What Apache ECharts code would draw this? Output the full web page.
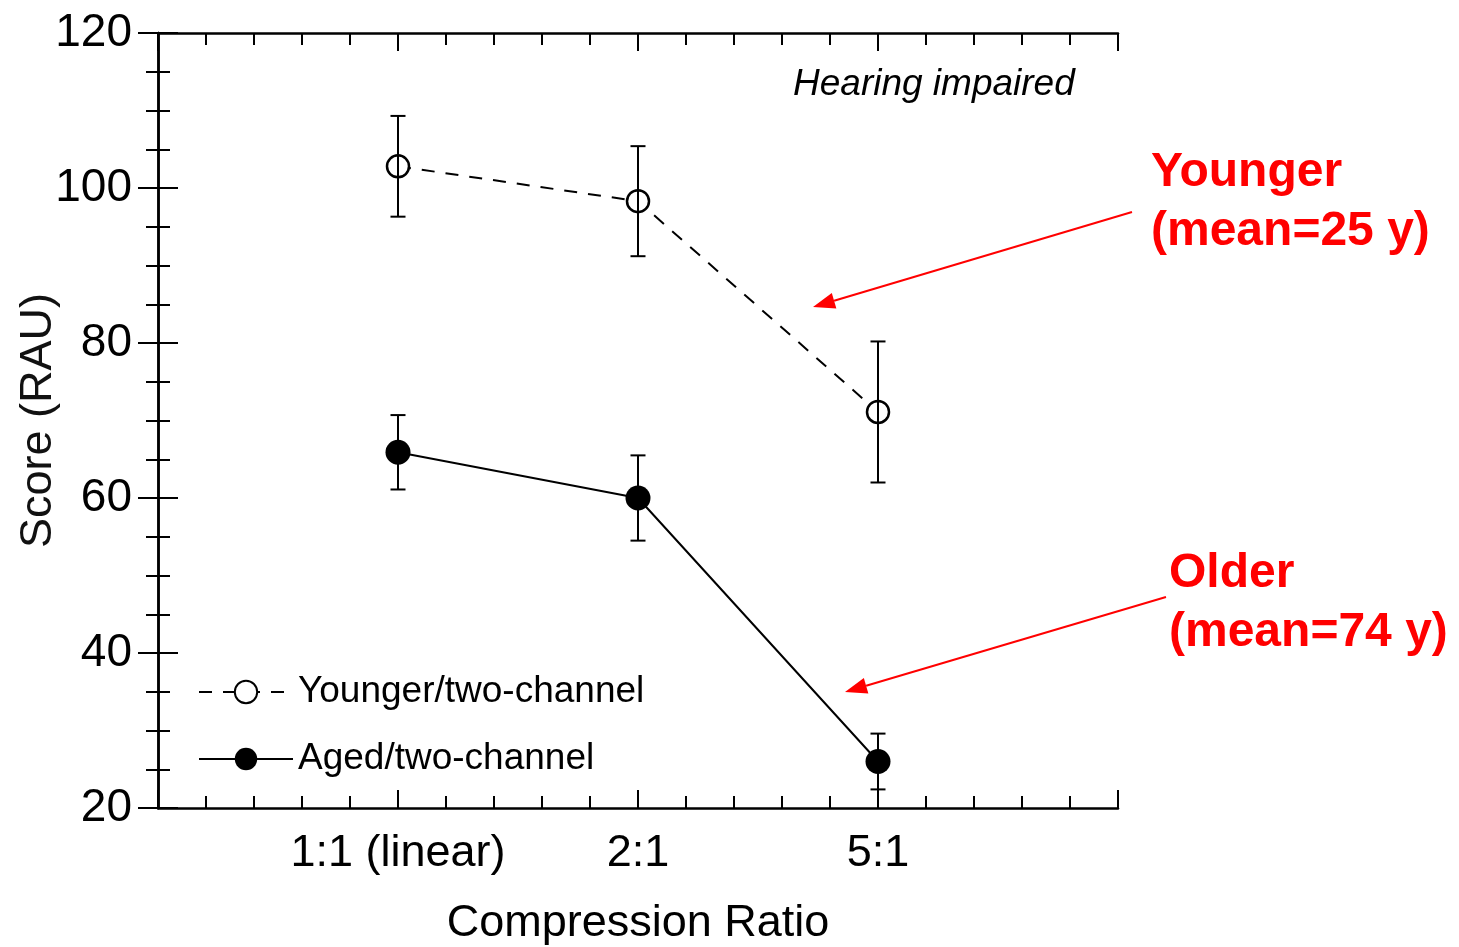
<!DOCTYPE html>
<html>
<head>
<meta charset="utf-8">
<script src="https://cdn.jsdelivr.net/npm/echarts@6/dist/echarts.min.js"></script>
<style>
  html, body { margin: 0; padding: 0; background: #fff; }
  #chart { width: 1459px; height: 947px; }
</style>
</head>
<body>
<div id="chart"></div>
<script>
// compression ratios, placed at x = 1, 2, 3
const ratios = ['1:1 (linear)', '2:1', '5:1']
const xPos = [1, 2, 3]
// younger listeners (mean 25 y)
const youngerMean = [102.8, 98.3, 71.1]
const youngerErr = [6.5, 7.1, 9.1]
// aged listeners (mean 74 y)
const agedMean = [65.9, 60.0, 26.0]
const agedErr = [4.8, 5.5, 3.6]

const FONT = 'Liberation Sans, Arial, sans-serif'

const chart = echarts.init(document.getElementById('chart'))

function pairs(means) {
  return xPos.map((x, i) => [x, means[i]])
}
function bars(means, errs) {
  return xPos.map((x, i) => [x, means[i] - errs[i], means[i] + errs[i]])
}

function errorBarItem(params, api) {
  const x = api.value(0)
  const lo = api.coord([x, api.value(1)])
  const hi = api.coord([x, api.value(2)])
  const w = 7.5
  const st = { stroke: '#000', lineWidth: 2 }
  return {
    type: 'group',
    children: [
      { type: 'line', shape: { x1: lo[0], y1: lo[1], x2: hi[0], y2: hi[1] }, style: st },
      { type: 'line', shape: { x1: lo[0] - w, y1: lo[1], x2: lo[0] + w, y2: lo[1] }, style: st },
      { type: 'line', shape: { x1: hi[0] - w, y1: hi[1], x2: hi[0] + w, y2: hi[1] }, style: st }
    ]
  }
}

// red annotation arrow: tail -> tip with a filled head
function arrow(x1, y1, x2, y2) {
  const dx = x2 - x1, dy = y2 - y1
  const len = Math.sqrt(dx * dx + dy * dy)
  const ux = dx / len, uy = dy / len
  const hl = 22, hw = 8
  const bx = x2 - ux * hl, by = y2 - uy * hl
  return [
    { type: 'line', shape: { x1: x1, y1: y1, x2: bx, y2: by }, style: { stroke: '#ff0000', lineWidth: 2 } },
    { type: 'polygon', shape: { points: [[x2, y2], [bx - uy * hw, by + ux * hw], [bx + uy * hw, by - ux * hw]] }, style: { fill: '#ff0000' } }
  ]
}

function redText(text, x, y) {
  return {
    type: 'text',
    style: { text: text, x: x, y: y, fill: '#ff0000', fontSize: 48, fontWeight: 'bold', fontFamily: FONT, verticalAlign: 'middle' }
  }
}

const axisLine = { lineStyle: { color: '#000', width: 2.5 } }
const tickStyle = { color: '#000', width: 2 }

chart.setOption({
  animation: false,
  backgroundColor: '#fff',
  grid: { left: 158, top: 33, width: 960, height: 775, containLabel: false, outerBoundsMode: 'none' },
  legend: {
    orient: 'vertical',
    left: 198,
    top: 672,
    padding: 0,
    itemWidth: 94,
    itemHeight: 28,
    itemGap: 27,
    textStyle: { fontSize: 37, lineHeight: 40, color: '#000', fontFamily: FONT },
    data: ['Younger/two-channel', 'Aged/two-channel']
  },
  xAxis: [
    {
      type: 'value', min: 0, max: 4, interval: 1, position: 'bottom',
      name: 'Compression Ratio', nameLocation: 'middle', nameGap: 93,
      nameTextStyle: { fontSize: 45, color: '#000', fontFamily: FONT },
      axisLine: axisLine,
      axisTick: { inside: true, length: 18, lineStyle: tickStyle },
      minorTick: { show: true, splitNumber: 5, length: 12, lineStyle: tickStyle },
      splitLine: { show: false },
      axisLabel: {
        fontSize: 45, color: '#000', fontFamily: FONT, margin: 23,
        formatter: v => { const i = xPos.indexOf(v); return i >= 0 ? ratios[i] : '' }
      }
    },
    {
      type: 'value', min: 0, max: 4, interval: 1, position: 'top',
      axisLine: axisLine,
      axisTick: { inside: true, length: 18, lineStyle: tickStyle },
      minorTick: { show: true, splitNumber: 5, length: 12, lineStyle: tickStyle },
      splitLine: { show: false },
      axisLabel: { show: false }
    }
  ],
  yAxis: [
    {
      type: 'value', min: 20, max: 120, interval: 20, position: 'left',
      name: 'Score (RAU)', nameLocation: 'middle', nameGap: 97, nameRotate: 90,
      nameMoveOverlap: false,
      nameTextStyle: { fontSize: 45, color: '#111', fontFamily: FONT },
      axisLine: axisLine,
      axisTick: { inside: true, length: 20, lineStyle: tickStyle },
      minorTick: { show: true, splitNumber: 4, length: 12, lineStyle: tickStyle },
      splitLine: { show: false },
      axisLabel: { fontSize: 46, color: '#000', fontFamily: FONT, margin: 26 }
    },
    {
      type: 'value', min: 20, max: 120, interval: 20, position: 'right',
      axisLine: axisLine,
      axisTick: { inside: true, length: 20, lineStyle: tickStyle },
      minorTick: { show: true, splitNumber: 4, length: 12, lineStyle: tickStyle },
      splitLine: { show: false },
      axisLabel: { show: false }
    }
  ],
  series: [
    {
      name: 'Younger/two-channel',
      type: 'line',
      data: pairs(youngerMean),
      symbol: 'circle',
      symbolSize: 22,
      lineStyle: { color: '#000', width: 2, type: [13, 11] },
      itemStyle: { color: '#fff', borderColor: '#000', borderWidth: 2.5 },
      z: 2
    },
    {
      name: 'Aged/two-channel',
      type: 'line',
      data: pairs(agedMean),
      symbol: 'circle',
      symbolSize: 25,
      lineStyle: { color: '#000', width: 2 },
      itemStyle: { color: '#000', borderColor: '#000', borderWidth: 0 },
      z: 2
    },
    {
      type: 'custom',
      renderItem: errorBarItem,
      data: bars(youngerMean, youngerErr),
      encode: { x: 0, y: [1, 2] },
      z: 3,
      silent: true
    },
    {
      type: 'custom',
      renderItem: errorBarItem,
      data: bars(agedMean, agedErr),
      encode: { x: 0, y: [1, 2] },
      z: 3,
      silent: true
    }
  ],
  graphic: [
    {
      type: 'text',
      style: { text: 'Hearing impaired', x: 793, y: 85, fill: '#000', fontSize: 37, fontStyle: 'italic', fontFamily: FONT, verticalAlign: 'middle' }
    },
    redText('Younger', 1151, 173),
    redText('(mean=25 y)', 1151, 232),
    redText('Older', 1169, 574),
    redText('(mean=74 y)', 1169, 633)
  ].concat(arrow(1132, 212, 813, 307), arrow(1166, 597, 845, 692))
})
</script>
</body>
</html>
